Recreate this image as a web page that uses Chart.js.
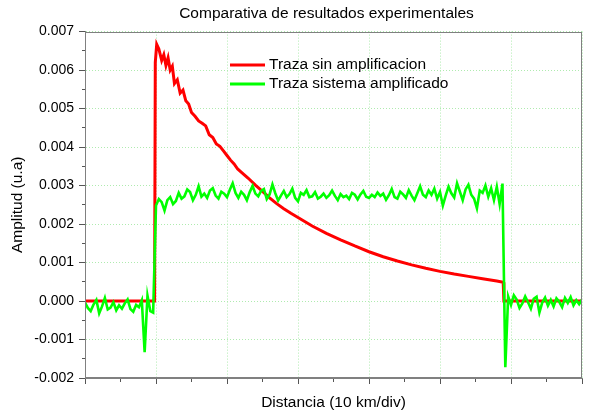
<!DOCTYPE html>
<html>
<head>
<meta charset="utf-8">
<script src="https://cdn.jsdelivr.net/npm/chart.js@4.4.0/dist/chart.umd.min.js"></script>
<style>
  html, body { margin: 0; padding: 0; background: #fff; }
</style>
</head>
<body>
<canvas id="traceChart" width="589" height="417"></canvas>
<script>
const titleText = 'Comparativa de resultados experimentales';
const xTitle = 'Distancia (10 km/div)';
const yTitle = 'Amplitud (u.a)';
const seriesNames = ['Traza sin amplificacion', 'Traza sistema amplificado'];

// y tick labels, one per major tick (0.001 apart)
const yTickLabels = ['-0.002', '-0.001', '0.000', '0.001', '0.002', '0.003', '0.004', '0.005', '0.006', '0.007'];

// red trace (x in divisions)
const redX = [0, 0.98, 0.99, 1.01, 1.04, 1.08, 1.11, 1.14, 1.17, 1.20, 1.23, 1.26, 1.30, 1.34, 1.38,
  1.42, 1.46, 1.50, 1.55, 1.60, 1.65, 1.70, 1.75, 1.80, 1.85, 1.90, 1.95, 2.00, 2.05, 2.10, 2.15,
  2.20, 2.30, 2.40, 2.50, 2.60, 2.70, 2.80, 2.90, 3.00, 3.20, 3.40, 3.60, 3.80, 4.00, 4.20, 4.40,
  4.60, 4.80, 5.00, 5.20, 5.40, 5.60, 5.80, 5.89, 5.90, 7.00];
const redY = [0, 0, 0.0062, 0.00667, 0.00655, 0.00625, 0.00640, 0.00612, 0.00632, 0.00600, 0.00610, 0.00565, 0.00575, 0.00540, 0.00548,
  0.00520, 0.00512, 0.00490, 0.00480, 0.00468, 0.00462, 0.00455, 0.00432, 0.00425, 0.00408, 0.00402, 0.00390, 0.00378, 0.00366, 0.00356, 0.00343,
  0.00335, 0.00319, 0.00301, 0.00285, 0.00268, 0.00253, 0.00240, 0.00228, 0.00217, 0.00195, 0.00176, 0.00159, 0.00143, 0.00128, 0.00115, 0.00104,
  0.00094, 0.00085, 0.00077, 0.00070, 0.00064, 0.00058, 0.00052, 0.00049, 0, 0];

// green trace, one sample every 0.04 div starting at 0 (5 samples per line)
const greenStep = 0.04;
const greenY = [
  -0.00004, -0.00018, -0.00026, -0.00009, 0.00003,   // 0.00
  -0.00032, -0.00014, 0.00008, -0.00022, -0.00017,   // 0.20
  -0.00003, -0.00024, -0.00011, -0.00020, -0.00006,  // 0.40
  0.00004, -0.00021, -0.00028, -0.00010, -0.00016,   // 0.60
  0.00002, -0.00133, 0.00014, -0.00026, -0.00030,    // 0.80
  0.00248, 0.00265, 0.00257, 0.00235, 0.00262,       // 1.00
  0.00270, 0.00252, 0.00260, 0.00281, 0.00266,       // 1.20
  0.00272, 0.00290, 0.00283, 0.00262, 0.00276,       // 1.40
  0.00298, 0.00271, 0.00279, 0.00268, 0.00287,       // 1.60
  0.00293, 0.00274, 0.00266, 0.00284, 0.00279,       // 1.80
  0.00270, 0.00289, 0.00306, 0.00281, 0.00268,       // 2.00
  0.00284, 0.00276, 0.00262, 0.00283, 0.00299,       // 2.20
  0.00279, 0.00272, 0.00286, 0.00291, 0.00265,       // 2.40
  0.00277, 0.00303, 0.00280, 0.00261, 0.00274,       // 2.60
  0.00286, 0.00270, 0.00278, 0.00292, 0.00268,       // 2.80
  0.00259, 0.00281, 0.00276, 0.00288, 0.00270,       // 3.00
  0.00272, 0.00283, 0.00266, 0.00271, 0.00279,       // 3.20
  0.00268, 0.00275, 0.00287, 0.00273, 0.00262,       // 3.40
  0.00278, 0.00270, 0.00274, 0.00265, 0.00281,       // 3.60
  0.00276, 0.00264, 0.00277, 0.00286, 0.00271,       // 3.80
  0.00268, 0.00276, 0.00270, 0.00282, 0.00273,       // 4.00
  0.00279, 0.00263, 0.00275, 0.00291, 0.00270,       // 4.20
  0.00266, 0.00284, 0.00277, 0.00268, 0.00288,       // 4.40
  0.00274, 0.00262, 0.00280, 0.00298, 0.00276,       // 4.60
  0.00270, 0.00287, 0.00276, 0.00292, 0.00266,       // 4.80
  0.00283, 0.00248, 0.00274, 0.00297, 0.00280,       // 5.00
  0.00269, 0.00306, 0.00284, 0.00262, 0.00290,       // 5.20
  0.00302, 0.00276, 0.00266, 0.00241, 0.00287,       // 5.40
  0.00281, 0.00300, 0.00271, 0.00293, 0.00262,       // 5.60
  0.00297, 0.00252, 0.00305, -0.00172, 0.00012,      // 5.80
  -0.00010, 0.00015, 0.00004, -0.00018, -0.00006,    // 6.00
  0.00012, -0.00003, -0.00020, 0.00006, 0.00011,     // 6.20
  -0.00030, -0.00004, 0.00009, -0.00012, 0.00003,    // 6.40
  -0.00014, 0.00007, -0.00002, -0.00016, 0.00008,    // 6.60
  -0.00005, 0.00010, -0.00011, 0.00002, -0.00008,    // 6.80
  0.00004                                            // 7.00
];

const FONT = '"Liberation Sans", Arial, sans-serif';
const gridGreen = 'rgb(175,235,175)';
const axisGray = '#808080';

function isMajor(i) {
  return i % 2 === 0;
}

// legend drawn inside the plot, like the original
const insideLegend = {
  id: 'insideLegend',
  afterDraw(chart) {
    const { ctx, chartArea } = chart;
    const x0 = chartArea.left + 145;
    const y0 = chartArea.top + 33.5;
    chart.data.datasets.forEach((ds, i) => {
      const y = y0 + i * 19;
      ctx.save();
      ctx.strokeStyle = ds.borderColor;
      ctx.lineWidth = 3;
      ctx.beginPath();
      ctx.moveTo(x0, y);
      ctx.lineTo(x0 + 35, y);
      ctx.stroke();
      ctx.fillStyle = '#000';
      ctx.font = '15.5px ' + FONT;
      ctx.textBaseline = 'middle';
      ctx.fillText(ds.label, x0 + 39, y);
      ctx.restore();
    });
  }
};

// box round the plot area, and nudge the title a little left as in the original
const frame = {
  id: 'frame',
  afterLayout(chart) {
    if (chart.titleBlock) chart.titleBlock.left -= 14;
  },
  afterDatasetsDraw(chart) {
    const { ctx, chartArea } = chart;
    ctx.save();
    ctx.strokeStyle = axisGray;
    ctx.lineWidth = 1;
    ctx.strokeRect(Math.round(chartArea.left) + 0.5, Math.round(chartArea.top) + 0.5,
      Math.round(chartArea.right - chartArea.left) - 1, Math.round(chartArea.bottom - chartArea.top) - 1);
    ctx.restore();
  }
};

const ctx = document.getElementById('traceChart').getContext('2d');

window.traceChart = new Chart(ctx, {
  type: 'line',
  data: {
    datasets: [
      {
        label: seriesNames[0],
        data: redX.map((x, i) => ({ x: x, y: redY[i] })),
        borderColor: '#ff0000',
        borderWidth: 3,
        pointRadius: 0,
        tension: 0,
        order: 1
      },
      {
        label: seriesNames[1],
        data: greenY.map((y, i) => ({ x: i * greenStep, y: y })),
        borderColor: '#00ff00',
        borderWidth: 2.6,
        pointRadius: 0,
        tension: 0,
        order: 0
      }
    ]
  },
  options: {
    responsive: false,
    animation: false,
    layout: { padding: { right: 7 } },
    plugins: {
      legend: { display: false },
      tooltip: { enabled: false },
      title: {
        display: true,
        text: titleText,
        fullSize: false,
        color: '#000',
        font: { family: FONT, size: 15.5, weight: 'normal' },
        padding: { top: 4, bottom: 9 }
      }
    },
    scales: {
      x: {
        type: 'linear',
        min: 0,
        max: 7,
        ticks: { stepSize: 0.5, autoSkip: false, callback: () => '' },
        grid: {
          color: c => isMajor(c.index) ? gridGreen : 'rgba(0,0,0,0)',
          tickColor: '#555',
          tickLength: 6,
          tickBorderDash: c => isMajor(c.index) ? [] : [3, 10]
        },
        border: { color: axisGray, dash: [1, 2] },
        title: {
          display: true,
          text: xTitle,
          color: '#000',
          font: { family: FONT, size: 15.5 },
          padding: { top: 0, bottom: 5 }
        },
        afterFit(scale) { scale.height = 39; }
      },
      y: {
        min: -0.002,
        max: 0.007,
        ticks: {
          stepSize: 0.0005,
          autoSkip: false,
          color: '#000',
          padding: 5,
          font: { family: FONT, size: 14 },
          callback: (v, i) => isMajor(i) ? yTickLabels[i / 2] : ''
        },
        grid: {
          color: c => isMajor(c.index) ? gridGreen : 'rgba(0,0,0,0)',
          tickColor: '#555',
          tickLength: 6,
          tickBorderDash: c => isMajor(c.index) ? [] : [0, 3, 3]
        },
        border: { color: axisGray, dash: [1, 2] },
        title: {
          display: true,
          text: yTitle,
          color: '#000',
          font: { family: FONT, size: 15.5 },
          padding: { top: 8, bottom: 0 }
        },
        afterFit(scale) { scale.width = 85; }
      }
    }
  },
  plugins: [insideLegend, frame]
});
</script>
</body>
</html>
